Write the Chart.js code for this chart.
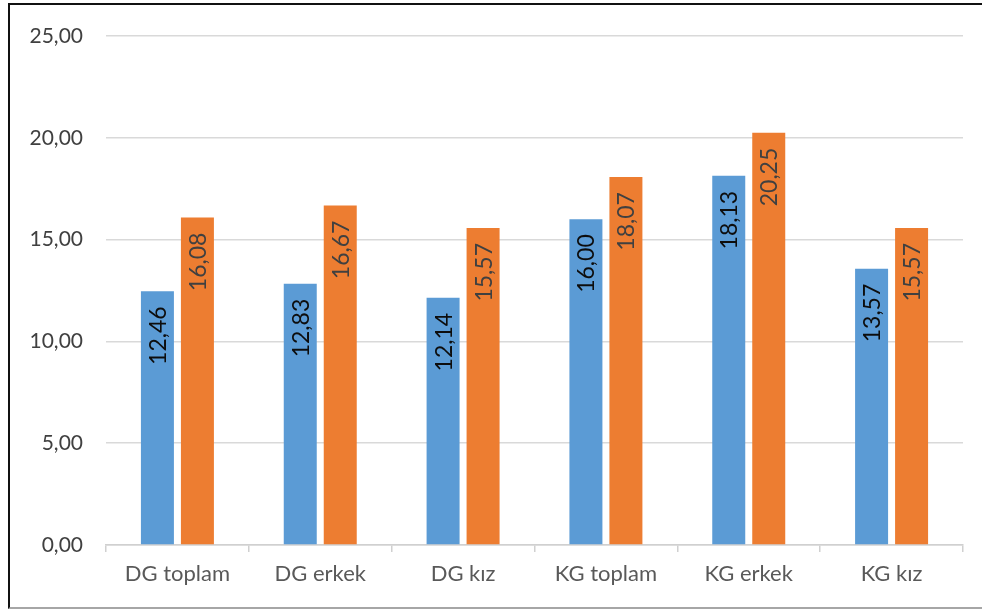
<!DOCTYPE html>
<html>
<head>
<meta charset="utf-8">
<script src="https://cdn.jsdelivr.net/npm/chart.js@4/dist/chart.umd.min.js"></script>
<style>
  html, body { margin: 0; padding: 0; background: #fff; }
  #wrap { position: relative; width: 982px; height: 610px; }
  #frame {
    position: absolute; left: 8px; top: 3px; right: -4px; bottom: 1px;
    border-left: 2px solid #111; border-top: 2px solid #111; border-bottom: 2px solid #a6a6a6;
  }
  canvas { position: absolute; left: 0; top: 0; }
</style>
</head>
<body>
<div id="wrap">
  <div id="frame"></div>
  <canvas id="chart" width="982" height="610"></canvas>
</div>
<script>
// Categories and the two value series
const categories = ['DG toplam', 'DG erkek', 'DG kız', 'KG toplam', 'KG erkek', 'KG kız'];
const seriesA = [12.46, 12.83, 12.14, 16.00, 18.13, 13.57];
const seriesB = [16.08, 16.67, 15.57, 18.07, 20.25, 15.57];
const yTicks = [0, 5, 10, 15, 20, 25];

const fmt = v => v.toFixed(2).replace('.', ',');

// Rotated value labels just inside the top end of each bar
const barLabels = {
  id: 'barLabels',
  afterDatasetsDraw(chart) {
    const ctx = chart.ctx;
    chart.data.datasets.forEach((ds, di) => {
      const meta = chart.getDatasetMeta(di);
      meta.data.forEach((bar, i) => {
        ctx.save();
        ctx.translate(bar.x, bar.y + 15);
        ctx.rotate(-Math.PI / 2);
        ctx.font = '23px Lato';
        ctx.fillStyle = ds.labelColor;
        ctx.textAlign = 'right';
        ctx.textBaseline = 'middle';
        ctx.fillText(fmt(ds.data[i]), 0, 1);
        ctx.restore();
      });
    });
  }
};

new Chart(document.getElementById('chart'), {
  type: 'bar',
  data: {
    labels: categories,
    datasets: [
      { data: seriesA, backgroundColor: '#5b9bd5', labelColor: '#0d0d0d' },
      { data: seriesB, backgroundColor: '#ed7d31', labelColor: '#404040' }
    ]
  },
  options: {
    responsive: false,
    animation: false,
    categoryPercentage: 0.56,
    barPercentage: 0.825,
    layout: { padding: { top: 36, right: 19, bottom: 0, left: 0 } },
    plugins: { legend: { display: false }, tooltip: { enabled: false } },
    scales: {
      x: {
        grid: { drawOnChartArea: false, drawTicks: true, tickLength: 7, color: '#d0d0d0', lineWidth: 1.5, offset: true },
        border: { color: '#d0d0d0', width: 1.5 },
        ticks: { color: '#595959', font: { family: 'Lato', size: 22 }, padding: 9, maxRotation: 0 },
        afterFit(s) { s.height = 65; }
      },
      y: {
        min: 0, max: 25,
        afterBuildTicks(s) { s.ticks = yTicks.map(v => ({ value: v })); },
        grid: { color: '#d9d9d9', lineWidth: 1.5, drawTicks: false },
        border: { display: false },
        ticks: { color: '#404040', font: { family: 'Lato', size: 21 }, padding: 23, callback: v => fmt(v) },
        afterFit(s) { s.width = 106; }
      }
    }
  },
  plugins: [barLabels]
});
</script>
</body>
</html>
